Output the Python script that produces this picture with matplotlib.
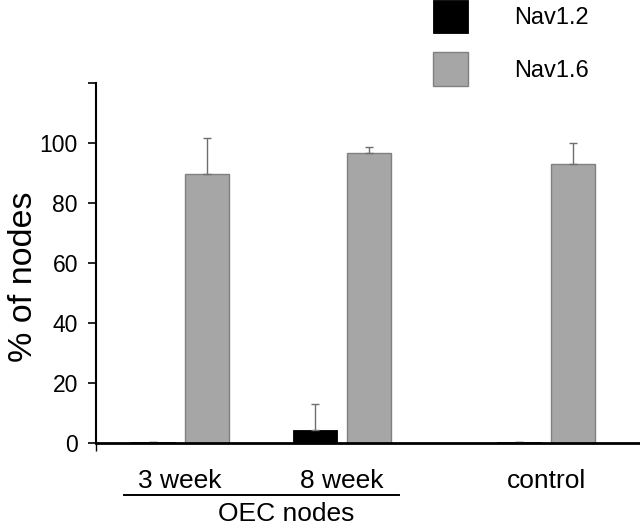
import matplotlib
matplotlib.use("Agg")
import matplotlib.pyplot as plt
import matplotlib.transforms as mtransforms
import numpy as np

plt.rcParams['font.family'] = ['Liberation Sans', 'DejaVu Sans']

groups = ['3 week', '8 week', 'control']
group_x = [0.0, 1.0, 2.26]
nav12 = [0.3, 4.4, 0.3]
nav12_err = [0.0, 8.6, 0.0]
nav16 = [89.4, 96.4, 92.8]
nav16_err = [12.0, 2.0, 7.0]
series_names = ['Nav1.2', 'Nav1.6']

fig = plt.figure(figsize=(6.4, 5.26), dpi=100)
ax = fig.add_axes([0.15, 0.158, 0.85, 0.685])

x = np.array(group_x)
w = 0.27
off = 0.168
ekw = dict(ecolor='#6e6e6e', elinewidth=1.0, capsize=3, capthick=1.0)

b1 = ax.bar(x - off, nav12, w, color='black', edgecolor='black', linewidth=0.6,
            yerr=[np.zeros(3), nav12_err], error_kw=ekw, label=series_names[0], zorder=2)
b2 = ax.bar(x + off, nav16, w, color='#a6a6a6', edgecolor='#808080', linewidth=1.0,
            yerr=[np.zeros(3), nav16_err], error_kw=ekw, label=series_names[1], zorder=2)

ax.set_xlim(-0.519, 2.84)
ax.set_ylim(0, 120)
ax.set_yticks(np.arange(0, 121, 20))
ax.set_yticklabels([str(v) for v in range(0, 101, 20)] + [''])
ax.tick_params(axis='y', direction='out', length=6, width=1.2, pad=7, labelsize=16.5)

ax.set_xticks(x)
ax.set_xticklabels(groups, fontsize=19)
ax.tick_params(axis='x', length=0, pad=19)
ax.set_xticks([-0.519], minor=True)
ax.tick_params(axis='x', which='minor', direction='out', length=6, width=1.0)

for s in ['top', 'right']:
    ax.spines[s].set_visible(False)
ax.spines['left'].set_linewidth(1.5)
ax.spines['bottom'].set_linewidth(2.0)
ax.spines['bottom'].set_zorder(3)

ax.set_ylabel('% of nodes', fontsize=24.5)
ax.yaxis.set_label_coords(-0.105, 0.46)

trans = mtransforms.blended_transform_factory(ax.transData, ax.transAxes)
ax.plot([-0.346, 1.35], [-0.1435, -0.1435], color='black', lw=1.4,
        transform=trans, clip_on=False)
ax.text(0.654, -0.198, 'OEC nodes', transform=trans, ha='center', va='center', fontsize=19)

fig.legend(handles=[b1, b2], labels=series_names, loc='upper left',
           bbox_to_anchor=(433 / 640, 1.0), frameon=False, fontsize=17,
           handlelength=1.5, handleheight=1.8, labelspacing=0.8,
           handletextpad=1.95, borderpad=0, borderaxespad=0)

fig.savefig('out.png', dpi=100)
